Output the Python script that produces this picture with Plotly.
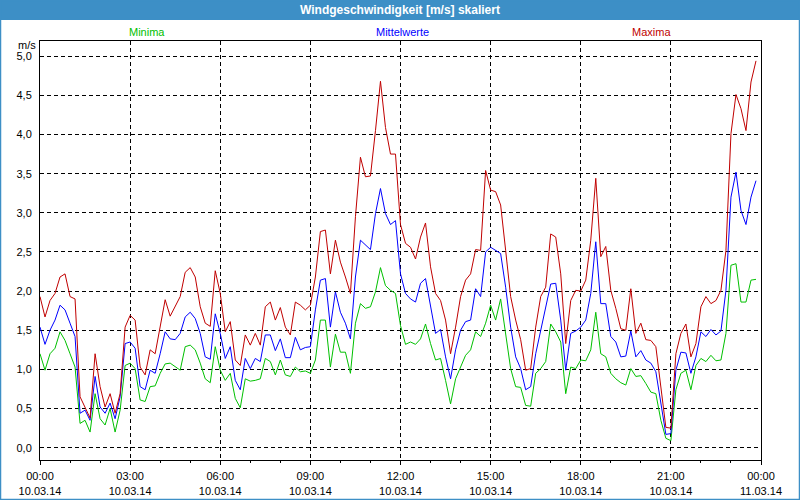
import plotly.graph_objects as go
import pandas as pd

# ---- data (10-minute values, 10.03.14 00:00 .. 23:50) ----
start_time = "2014-03-10 00:00"
n_points = 144

maxima = [1.93, 1.67, 1.88, 1.97, 2.18, 2.22, 1.93, 1.90, 0.65, 0.52, 0.38, 1.20, 0.78, 0.52, 0.69, 0.44, 0.69, 1.54, 1.69, 1.63, 1.03, 0.93, 1.25, 1.20, 1.55,
          1.89, 1.68, 1.80, 1.93, 2.24, 2.30, 2.18, 1.80, 1.59, 1.55, 2.26, 1.97, 1.48, 1.61, 1.12, 1.05, 1.44, 1.31, 1.46, 1.31, 1.80, 1.86, 1.63, 1.79,
          1.54, 1.44, 1.86, 1.82, 1.76, 1.82, 2.18, 2.76, 2.78, 2.22, 2.65, 2.37, 2.18, 1.97, 2.95, 3.71, 3.46, 3.47, 4.05, 4.68, 4.09, 3.75, 3.75, 2.85,
          2.61, 2.56, 2.41, 2.69, 2.87, 2.31, 1.97, 1.88, 1.63, 1.20, 1.54, 1.93, 2.14, 2.22, 2.53, 2.52, 3.54, 3.29, 3.27, 3.10, 2.52, 1.93, 1.63, 1.38,
          0.99, 1.01, 1.54, 1.93, 2.05, 2.73, 2.69, 2.22, 1.33, 1.88, 2.01, 2.00, 2.14, 2.65, 3.44, 2.44, 2.57, 2.01, 1.78, 1.52, 1.50, 2.03, 1.46, 1.59,
          1.38, 1.37, 1.29, 0.80, 0.26, 0.25, 1.20, 1.46, 1.58, 1.16, 1.33, 1.80, 1.93, 1.84, 1.88, 2.01, 2.52, 4.01, 4.51, 4.33, 4.05, 4.67, 4.94]

mittelwerte = [1.54, 1.32, 1.50, 1.63, 1.82, 1.76, 1.59, 1.42, 0.44, 0.48, 0.35, 0.91, 0.52, 0.44, 0.57, 0.37, 0.65, 1.33, 1.35, 1.27, 0.78, 0.74, 0.99, 0.95, 1.20,
               1.48, 1.39, 1.38, 1.46, 1.67, 1.73, 1.65, 1.46, 1.16, 1.13, 1.71, 1.46, 1.14, 1.29, 0.86, 0.74, 1.14, 1.01, 1.14, 1.10, 1.44, 1.44, 1.24, 1.39,
               1.15, 1.15, 1.41, 1.25, 1.28, 1.29, 1.76, 2.14, 2.16, 1.54, 1.99, 1.73, 1.59, 1.39, 2.18, 2.65, 2.59, 2.53, 2.99, 3.31, 2.99, 2.85, 2.90, 2.22,
               1.97, 1.90, 1.86, 2.10, 2.16, 1.80, 1.46, 1.51, 1.16, 0.88, 1.25, 1.50, 1.61, 1.63, 2.03, 1.93, 2.50, 2.56, 2.52, 2.48, 2.05, 1.54, 1.16, 1.01,
               0.74, 0.78, 1.20, 1.50, 1.80, 2.09, 2.10, 1.63, 0.99, 1.46, 1.49, 1.54, 1.63, 1.97, 2.63, 1.84, 1.84, 1.42, 1.35, 1.16, 1.17, 1.49, 1.16, 1.24,
               1.12, 1.08, 0.97, 0.57, 0.17, 0.18, 0.99, 1.22, 1.21, 0.95, 1.16, 1.48, 1.42, 1.51, 1.44, 1.49, 2.01, 3.20, 3.52, 3.03, 2.85, 3.20, 3.41]

minima = [1.20, 0.99, 1.20, 1.27, 1.48, 1.37, 1.20, 1.03, 0.31, 0.35, 0.20, 0.69, 0.37, 0.29, 0.50, 0.20, 0.48, 1.05, 1.08, 1.01, 0.61, 0.59, 0.78, 0.79, 0.95,
          1.07, 1.08, 1.03, 0.99, 1.29, 1.31, 1.25, 1.08, 0.88, 0.83, 1.29, 0.99, 0.86, 0.95, 0.63, 0.51, 0.88, 0.85, 0.86, 0.88, 1.14, 1.10, 0.93, 1.12,
          0.93, 0.91, 1.03, 0.97, 0.98, 0.95, 1.12, 1.63, 1.63, 1.03, 1.45, 1.22, 1.22, 0.95, 1.59, 1.84, 1.78, 1.80, 1.99, 2.30, 2.07, 2.01, 1.97, 1.56,
          1.32, 1.35, 1.32, 1.39, 1.58, 1.33, 1.12, 1.14, 0.86, 0.56, 0.88, 1.03, 1.18, 1.25, 1.48, 1.42, 1.59, 1.82, 1.63, 1.90, 1.48, 1.01, 0.78, 0.77,
          0.54, 0.53, 0.95, 1.01, 1.10, 1.58, 1.48, 1.35, 0.69, 1.03, 1.01, 1.12, 1.11, 1.25, 1.73, 1.20, 1.16, 0.95, 0.88, 0.83, 0.80, 1.01, 0.91, 0.92,
          0.82, 0.71, 0.69, 0.35, 0.12, 0.09, 0.74, 0.95, 0.99, 0.74, 1.05, 1.14, 1.10, 1.18, 1.11, 1.12, 1.46, 2.33, 2.35, 1.86, 1.86, 2.14, 2.15]

x_tick_values = ["2014-03-10 00:00", "2014-03-10 03:00", "2014-03-10 06:00", "2014-03-10 09:00",
                 "2014-03-10 12:00", "2014-03-10 15:00", "2014-03-10 18:00", "2014-03-10 21:00",
                 "2014-03-11 00:00"]
x_tick_labels = ["00:00<br>10.03.14", "03:00<br>10.03.14", "06:00<br>10.03.14", "09:00<br>10.03.14",
                 "12:00<br>10.03.14", "15:00<br>10.03.14", "18:00<br>10.03.14", "21:00<br>10.03.14",
                 "00:00<br>11.03.14"]
y_tick_values = [0.0, 0.5, 1.0, 1.5, 2.0, 2.5, 3.0, 3.5, 4.0, 4.5, 5.0]
y_tick_labels = ["0,0", "0,5", "1,0", "1,5", "2,0", "2,5", "3,0", "3,5", "4,0", "4,5", "5,0"]

times = pd.date_range(start_time, periods=n_points, freq="10min")

# ---- style ----
W, H = 800, 500
ML, MR, MT, MB = 40, 39, 41, 40
GREEN = "#00c000"
BLUE = "#0000ff"
RED = "#c00000"
BAR = "#3d8fc6"
FONT = "Liberation Sans"


def px_x(x):
    return (x - ML) / (W - ML - MR)


def px_y(y):
    return (H - MB - y) / (H - MT - MB)


fig = go.Figure()
for name, vals, col in [("Minima", minima, GREEN), ("Mittelwerte", mittelwerte, BLUE), ("Maxima", maxima, RED)]:
    fig.add_trace(go.Scatter(x=times, y=vals, mode="lines", name=name,
                             line=dict(color=col, width=1), hoverinfo="skip"))

grid = dict(showgrid=True, gridcolor="black", gridwidth=1, griddash="4px,3px",
            showline=True, linecolor="black", linewidth=1, mirror=True, zeroline=False)

fig.update_layout(
    width=W, height=H,
    margin=dict(l=ML, r=MR, t=MT, b=MB, pad=0, autoexpand=False),
    paper_bgcolor="white", plot_bgcolor="white",
    showlegend=False,
    font=dict(family=FONT, size=11, color="black"),
    xaxis=dict(type="date", range=["2014-03-10 00:00", "2014-03-11 00:00"],
               tickvals=x_tick_values, ticktext=x_tick_labels,
               ticks="outside", ticklen=4, tickcolor="black", ticklabelstandoff=2,
               minor=dict(dtick=3600000, ticks="outside", ticklen=2, tickcolor="black", showgrid=False),
               tickfont=dict(size=11, family=FONT), automargin=False, **grid),
    yaxis=dict(range=[-0.157, 5.194], tickvals=y_tick_values, ticktext=y_tick_labels,
               ticks="", ticklabelstandoff=5, tickfont=dict(size=11, family=FONT), automargin=False, **grid),
    shapes=[
        dict(type="rect", xref="paper", yref="paper", x0=px_x(0), x1=px_x(W), y0=px_y(20), y1=px_y(0),
             fillcolor=BAR, line=dict(width=0), layer="above"),
        dict(type="rect", xref="paper", yref="paper", x0=px_x(0.5), x1=px_x(W - 0.5), y0=px_y(H - 0.5), y1=px_y(0.5),
             fillcolor="rgba(0,0,0,0)", line=dict(color=BAR, width=1.5), layer="above"),
    ],
    annotations=[
        dict(text="<b>Windgeschwindigkeit [m/s] skaliert</b>", xref="paper", yref="paper",
             x=px_x(400), y=px_y(10), xanchor="center", yanchor="middle", showarrow=False,
             font=dict(color="white", size=12, family=FONT)),
        dict(text="Minima", xref="paper", yref="paper", x=px_x(147), y=px_y(32), xanchor="center",
             yanchor="middle", showarrow=False, font=dict(color=GREEN, size=11)),
        dict(text="Mittelwerte", xref="paper", yref="paper", x=px_x(402), y=px_y(32), xanchor="center",
             yanchor="middle", showarrow=False, font=dict(color=BLUE, size=11)),
        dict(text="Maxima", xref="paper", yref="paper", x=px_x(651), y=px_y(32), xanchor="center",
             yanchor="middle", showarrow=False, font=dict(color=RED, size=11)),
        dict(text="m/s", xref="paper", yref="paper", x=px_x(27), y=px_y(45), xanchor="center",
             yanchor="middle", showarrow=False, font=dict(color="black", size=11)),
    ],
)

fig.write_html("out.html", config={"displayModeBar": False},
               post_script="document.body.style.margin='0';document.body.style.overflow='hidden';")
